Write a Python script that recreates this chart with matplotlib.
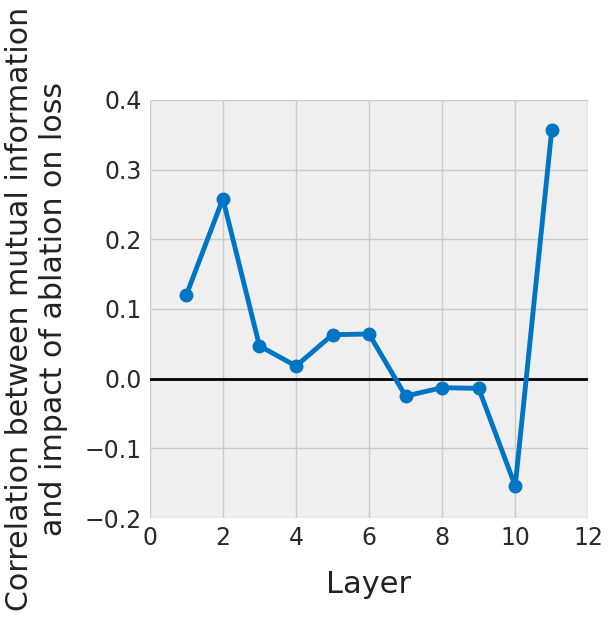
import matplotlib
matplotlib.use("Agg")
import matplotlib.pyplot as plt

layers = [1, 2, 3, 4, 5, 6, 7, 8, 9, 10, 11]
corr = [0.120, 0.258, 0.047, 0.018, 0.063, 0.064, -0.025, -0.013, -0.014, -0.154, 0.357]

fig = plt.figure(figsize=(6.09, 6.2), dpi=100)
ax = fig.add_axes([0.246, 0.1645, 0.720, 0.6745])
ax.set_facecolor("#efefef")
for s in ax.spines.values():
    s.set_visible(False)
ax.grid(True, color="#cbcbcb", lw=1.0)
ax.set_axisbelow(True)

ax.axhline(0, color="black", lw=2, zorder=2)
ax.plot(layers, corr, "-o", color="#0075c4", lw=3.5, ms=9, zorder=3)

ax.set_xlim(0, 12)
ax.set_ylim(-0.2, 0.4)
ax.set_xticks(range(0, 13, 2))
ax.set_yticks([-0.2, -0.1, 0.0, 0.1, 0.2, 0.3, 0.4])
ax.tick_params(length=0, labelsize=17, labelcolor="#2a2a2a", pad=6)
ax.set_xlabel("Layer", fontsize=22, color="#222222", labelpad=14)
ax.set_ylabel("Correlation between mutual information\nand impact of ablation on loss",
              fontsize=21.6, color="#222222", labelpad=12)

fig.savefig("out.png", dpi=100)
